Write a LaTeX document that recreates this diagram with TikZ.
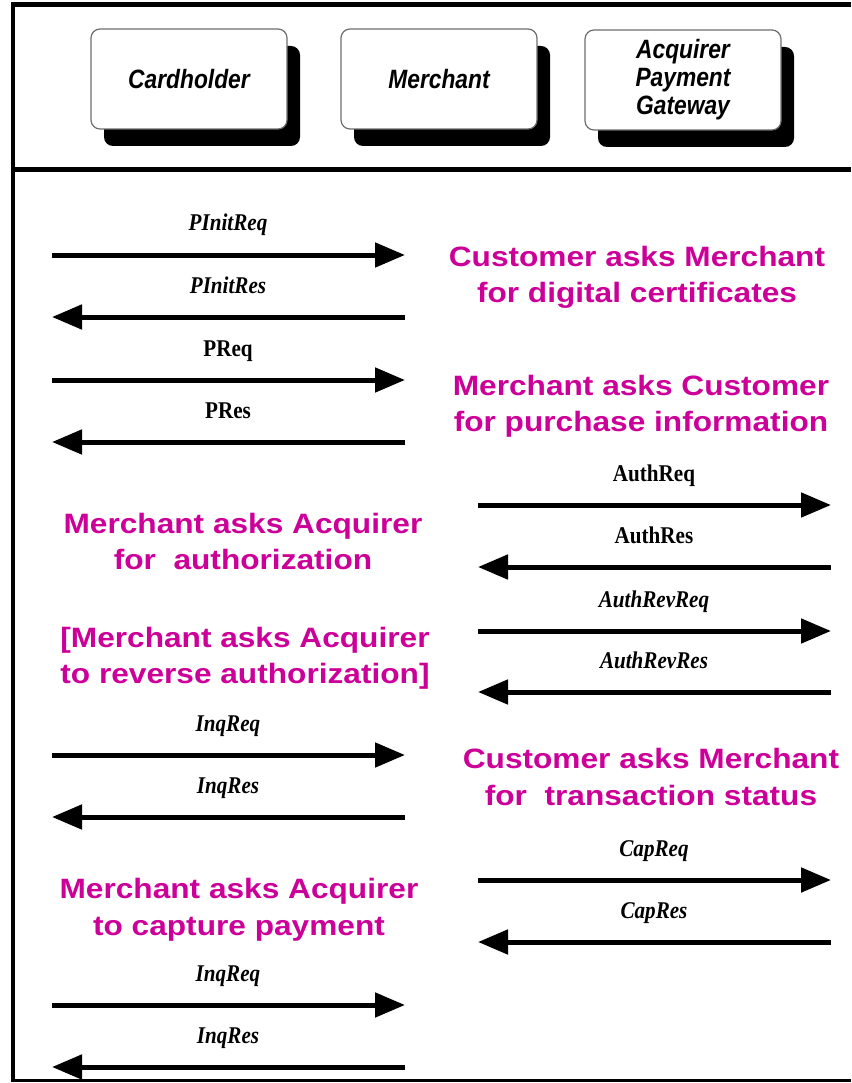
\documentclass[tikz,border=0pt]{standalone}
\usepackage{fontspec}
\usetikzlibrary{arrows.meta,shadows}
\newfontfamily\boxfont[FakeStretch=0.86]{Liberation Sans}
\newfontfamily\notefont[FakeStretch=1.13]{Liberation Sans}
\newfontfamily\labfont[FakeStretch=0.88]{Liberation Serif}
\definecolor{mag}{RGB}{204,0,153}
\definecolor{boxline}{RGB}{110,110,110}
\tikzset{
  entity/.style={draw=boxline, line width=1.2pt, fill=white, rounded corners=9pt,
    minimum width=196pt, minimum height=100pt, inner sep=0pt, align=center,
    font=\boxfont\bfseries\itshape\fontsize{26.5}{28}\selectfont,
    drop shadow={shadow xshift=13pt, shadow yshift=-17pt, fill=black, opacity=1}},
  msg/.style={line width=5pt, -{Triangle[length=30pt,width=24pt]}},
  lab/.style={anchor=base, inner sep=0pt, font=\labfont\bfseries\fontsize{24}{26}\selectfont},
  note/.style={anchor=base, inner sep=0pt, text=mag, font=\notefont\bfseries\fontsize{28}{32}\selectfont},
  frame/.style={line width=5pt}
}
\begin{document}
\begin{tikzpicture}[x=1pt,y=-1pt]
\useasboundingbox (0,0) rectangle (851,1083);
% frame
\draw[frame] (11,5) -- (851,5);
\draw[line width=4pt] (13,3) -- (13,1082);
\draw[frame] (11,170) -- (851,170);
\draw[line width=3pt] (11,1080) -- (851,1080);
% header boxes
\node[entity] (ch) at (189,79) {Cardholder};
\node[entity] (me) at (439,79) {Merchant};
\node[entity] (ac) at (683,80) {Acquirer\\Payment\\Gateway};
% left column arrows
\coordinate (L1) at (52,255);  \coordinate (R1) at (405,255);
\coordinate (L2) at (52,317);  \coordinate (R2) at (405,317);
\coordinate (L3) at (52,380);  \coordinate (R3) at (405,380);
\coordinate (L4) at (52,442);  \coordinate (R4) at (405,442);
\coordinate (L9) at (52,755);  \coordinate (R9) at (405,755);
\coordinate (L10) at (52,817); \coordinate (R10) at (405,817);
\coordinate (L13) at (52,1005); \coordinate (R13) at (405,1005);
\coordinate (L14) at (52,1067); \coordinate (R14) at (405,1067);
% right column arrows
\coordinate (L5) at (478,505); \coordinate (R5) at (831,505);
\coordinate (L6) at (478,567); \coordinate (R6) at (831,567);
\coordinate (L7) at (478,631); \coordinate (R7) at (831,631);
\coordinate (L8) at (478,692); \coordinate (R8) at (831,692);
\coordinate (L11) at (478,880); \coordinate (R11) at (831,880);
\coordinate (L12) at (478,942); \coordinate (R12) at (831,942);
\draw[msg] (L1) -- (R1);
\draw[msg] (R2) -- (L2);
\draw[msg] (L3) -- (R3);
\draw[msg] (R4) -- (L4);
\draw[msg] (L5) -- (R5);
\draw[msg] (R6) -- (L6);
\draw[msg] (L7) -- (R7);
\draw[msg] (R8) -- (L8);
\draw[msg] (L9) -- (R9);
\draw[msg] (R10) -- (L10);
\draw[msg] (L11) -- (R11);
\draw[msg] (R12) -- (L12);
\draw[msg] (L13) -- (R13);
\draw[msg] (R14) -- (L14);
% arrow labels
\node[lab] (m1) at (228,231) {\itshape PInitReq};
\node[lab] (m2) at (228,293) {\itshape PInitRes};
\node[lab] (m3) at (228,356) {PReq};
\node[lab] (m4) at (228,418) {PRes};
\node[lab] (m5) at (654,481) {AuthReq};
\node[lab] (m6) at (654,543) {AuthRes};
\node[lab] (m7) at (654,607) {\itshape AuthRevReq};
\node[lab] (m8) at (654,668) {\itshape AuthRevRes};
\node[lab] (m9) at (228,731) {\itshape InqReq};
\node[lab] (m10) at (228,793) {\itshape InqRes};
\node[lab] (m11) at (654,856) {\itshape CapReq};
\node[lab] (m12) at (654,918) {\itshape CapRes};
\node[lab] (m13) at (228,981) {\itshape InqReq};
\node[lab] (m14) at (228,1043) {\itshape InqRes};
% magenta notes
\node[note] (n1a) at (637,266) {Customer asks Merchant};
\node[note] (n1b) at (637,302) {for digital certificates};
\node[note] (n2a) at (641,395) {Merchant asks Customer};
\node[note] (n2b) at (641,431) {for purchase information};
\node[note] (n3a) at (243,533) {Merchant asks Acquirer};
\node[note] (n3b) at (243,569) {for\ \ authorization};
\node[note] (n4a) at (245,647) {[Merchant asks Acquirer};
\node[note] (n4b) at (245,683) {to reverse authorization]};
\node[note] (n5a) at (651,768) {Customer asks Merchant};
\node[note] (n5b) at (651,805) {for\ \ transaction status};
\node[note] (n6a) at (239,898) {Merchant asks Acquirer};
\node[note] (n6b) at (239,935) {to capture payment};
\end{tikzpicture}
\end{document}
